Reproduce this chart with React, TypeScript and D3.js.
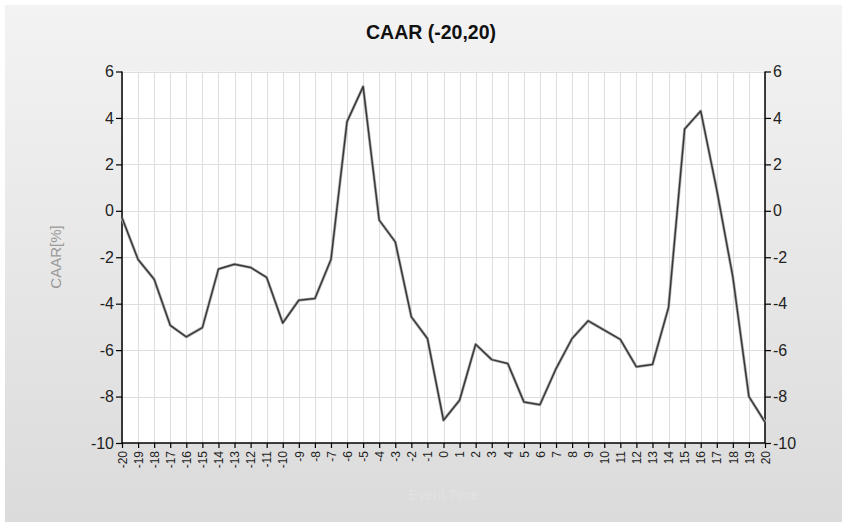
import React, { useEffect, useRef } from 'react';
import * as d3 from 'd3';

// event time -20..20
const eventTimes = d3.range(-20, 21);
const caar = [
  -0.3, -2.1, -2.95, -4.93, -5.43, -5.03, -2.51, -2.3, -2.44, -2.87,
  -4.83, -3.85, -3.78, -2.1, 3.84, 5.35, -0.4, -1.34, -4.57, -5.5,
  -9.02, -8.16, -5.75, -6.41, -6.58, -8.23, -8.35, -6.8, -5.5, -4.74,
  -5.14, -5.54, -6.72, -6.62, -4.16, 3.52, 4.3, 0.9, -2.85, -8.0, -9.1,
];
const yTicks = [6, 4, 2, 0, -2, -4, -6, -8, -10];

const W = 842;
const H = 522;

const App: React.FC = () => {
  const svgRef = useRef<SVGSVGElement>(null);

  useEffect(() => {
    if (!svgRef.current) return;
    const svg = d3.select(svgRef.current);
    svg.selectAll('*').remove();

    const left = 122, right = 765, top = 71.5, bottom = 443;
    const font = '"Liberation Sans", Arial, sans-serif';
    const fmt = (d: d3.NumberValue) => String(d); // plain hyphen minus

    const x = d3.scaleLinear().domain([-20, 20]).range([left, right]);
    const y = d3.scaleLinear().domain([-10, 6]).range([bottom, top]);

    // background panel
    const defs = svg.append('defs');
    const grad = defs.append('linearGradient')
      .attr('id', 'bg').attr('x1', 0).attr('y1', 0).attr('x2', 0).attr('y2', 1);
    grad.append('stop').attr('offset', '0%').attr('stop-color', '#f3f3f3');
    grad.append('stop').attr('offset', '100%').attr('stop-color', '#dbdbdb');

    svg.append('rect').attr('width', W).attr('height', H).attr('fill', '#fff');
    svg.append('rect').attr('x', 5).attr('y', 5)
      .attr('width', W - 5).attr('height', H - 5).attr('fill', 'url(#bg)');

    // plot area
    svg.append('rect')
      .attr('x', left).attr('y', top)
      .attr('width', right - left).attr('height', bottom - top)
      .attr('fill', '#fff');

    // grid
    const grid = svg.append('g').attr('stroke', '#dedede').attr('stroke-width', 1);
    eventTimes.forEach(t => {
      grid.append('line')
        .attr('x1', Math.round(x(t)) + 0.5).attr('x2', Math.round(x(t)) + 0.5)
        .attr('y1', top).attr('y2', bottom);
    });
    yTicks.forEach(v => {
      grid.append('line')
        .attr('x1', left).attr('x2', right)
        .attr('y1', Math.round(y(v)) + 0.5).attr('y2', Math.round(y(v)) + 0.5);
    });

    // axes
    const axisL = svg.append('g')
      .attr('transform', `translate(${left},0)`)
      .call(d3.axisLeft(y).tickValues(yTicks).tickSize(6).tickPadding(2).tickFormat(fmt));
    const axisR = svg.append('g')
      .attr('transform', `translate(${right},0)`)
      .call(d3.axisRight(y).tickValues(yTicks).tickSize(6).tickPadding(2).tickFormat(fmt));
    const axisB = svg.append('g')
      .attr('transform', `translate(0,${bottom})`)
      .call(d3.axisBottom(x).tickValues(eventTimes).tickSize(5).tickFormat(fmt));

    [axisL, axisR, axisB].forEach(a => {
      a.select('.domain').attr('stroke', '#000').attr('stroke-width', 1.5);
      a.selectAll('.tick line').attr('stroke', '#000').attr('stroke-width', 1.2);
    });
    axisL.select('.domain').attr('d', `M0,${top}H0V${bottom}`);
    axisR.select('.domain').attr('d', `M0,${top}H0V${bottom}`);
    axisB.select('.domain').attr('d', `M${left},0H${right}`);

    [axisL, axisR].forEach(a => {
      a.selectAll('.tick text')
        .attr('font-family', font).attr('font-size', 16).attr('fill', '#222');
    });
    axisB.selectAll('.tick text')
      .attr('font-family', font).attr('font-size', 12).attr('fill', '#222')
      .attr('transform', 'rotate(-90)')
      .attr('text-anchor', 'end')
      .attr('x', -8).attr('y', 0).attr('dy', '0.35em');

    // line: soft halo under a dark core
    const line = d3.line<number>()
      .x((_, i) => x(eventTimes[i]))
      .y(d => y(d));
    svg.append('path').datum(caar)
      .attr('fill', 'none').attr('stroke', '#b4b4b4').attr('stroke-width', 3)
      .attr('stroke-linejoin', 'round').attr('d', line);
    svg.append('path').datum(caar)
      .attr('fill', 'none').attr('stroke', '#383838').attr('stroke-width', 1.5)
      .attr('stroke-linejoin', 'round').attr('d', line);

    // titles
    svg.append('text')
      .attr('x', 431).attr('y', 39)
      .attr('text-anchor', 'middle')
      .attr('font-family', font).attr('font-size', 19.5).attr('font-weight', 'bold')
      .attr('fill', '#111')
      .text('CAAR (-20,20)');

    svg.append('text')
      .attr('transform', `translate(61,257) rotate(-90)`)
      .attr('text-anchor', 'middle')
      .attr('font-family', font).attr('font-size', 15)
      .attr('fill', '#9a9a9a')
      .text('CAAR[%]');

    svg.append('text')
      .attr('x', 444).attr('y', 500)
      .attr('text-anchor', 'middle')
      .attr('font-family', font).attr('font-size', 14)
      .attr('fill', '#e2e2e2')
      .text('Event Time');
  }, []);

  return (
    <svg
      ref={svgRef}
      width={W}
      height={H}
      style={{ position: 'absolute', left: 0, top: 0, display: 'block' }}
    />
  );
};

export default App;
